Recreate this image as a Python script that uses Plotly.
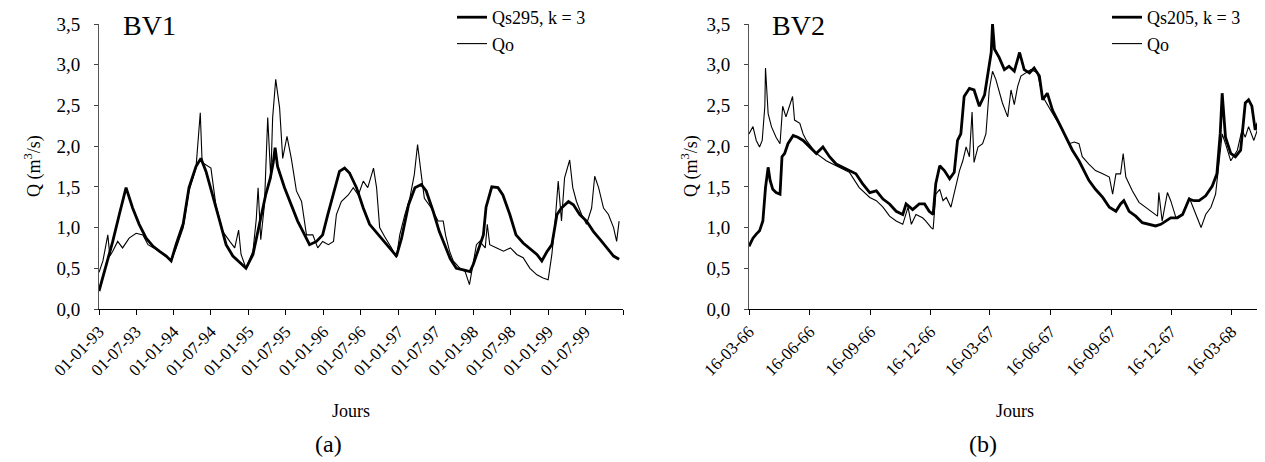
import plotly.graph_objects as go
import pandas as pd

# ---------------- BV1 (a) ----------------
bv1_qs_dates = [
    "1993-01-01", "1993-02-06", "1993-03-09", "1993-04-10", "1993-05-13", "1993-06-14", "1993-07-16",
    "1993-08-19", "1993-09-22", "1993-10-22", "1993-11-25", "1993-12-19", "1994-01-13", "1994-02-16",
    "1994-03-16", "1994-04-19", "1994-05-13", "1994-06-07", "1994-07-10", "1994-08-13", "1994-09-13",
    "1994-10-16", "1994-11-19", "1994-12-19", "1995-01-22", "1995-02-25", "1995-03-25", "1995-04-16",
    "1995-05-01", "1995-05-10", "1995-05-22", "1995-06-25", "1995-07-28", "1995-08-28", "1995-10-01",
    "1995-10-25", "1995-11-28", "1995-12-28", "1996-01-22", "1996-02-28", "1996-03-19", "1996-04-13",
    "1996-05-07", "1996-06-10", "1996-07-13", "1996-08-13", "1996-09-25", "1996-10-25", "1996-11-28",
    "1996-12-22", "1997-01-16", "1997-02-19", "1997-03-22", "1997-04-22", "1997-05-16", "1997-06-19",
    "1997-07-19", "1997-08-22", "1997-09-10", "1997-09-25", "1997-10-10", "1997-11-13", "1997-12-16",
    "1998-01-01", "1998-01-25", "1998-02-19", "1998-03-04", "1998-04-01", "1998-05-01", "1998-05-25",
    "1998-06-28", "1998-07-28", "1998-09-01", "1998-10-01", "1998-11-07", "1998-12-01", "1998-12-25",
    "1999-01-19", "1999-02-13", "1999-03-07", "1999-04-10", "1999-05-04", "1999-06-04", "1999-07-07",
    "1999-08-10", "1999-09-13", "1999-10-13", "1999-11-16", "1999-12-13",
]
bv1_qs = [
    0.22, 0.54, 0.83, 1.16, 1.49, 1.24, 1.04,
    0.87, 0.77, 0.71, 0.65, 0.59, 0.80, 1.05,
    1.49, 1.75, 1.85, 1.69, 1.40, 1.08, 0.79,
    0.65, 0.57, 0.50, 0.67, 1.08, 1.40, 1.60,
    1.80, 1.98, 1.75, 1.49, 1.28, 1.08, 0.91,
    0.79, 0.83, 0.91, 1.16, 1.49, 1.69, 1.73,
    1.67, 1.49, 1.24, 1.04, 0.91, 0.83, 0.73,
    0.65, 0.87, 1.28, 1.49, 1.53, 1.45, 1.20,
    0.95, 0.75, 0.62, 0.56, 0.50, 0.48, 0.46,
    0.55, 0.72, 0.91, 1.25, 1.50, 1.49, 1.40,
    1.16, 0.91, 0.81, 0.75, 0.67, 0.59, 0.70,
    0.79, 1.16, 1.24, 1.32, 1.28, 1.16, 1.08,
    0.95, 0.85, 0.75, 0.65, 0.61,
]
bv1_qo_dates = [
    "1993-01-01", "1993-01-20", "1993-02-13", "1993-02-23", "1993-03-09", "1993-04-02", "1993-04-26",
    "1993-05-28", "1993-07-01", "1993-08-03", "1993-08-28", "1993-10-22", "1993-12-19", "1994-01-13",
    "1994-02-16", "1994-03-16", "1994-04-19", "1994-05-10", "1994-05-19", "1994-07-01", "1994-07-25",
    "1994-08-28", "1994-10-01", "1994-10-25", "1994-11-13", "1994-11-25", "1994-12-19", "1995-01-22",
    "1995-02-07", "1995-02-16", "1995-03-01", "1995-03-19", "1995-04-04", "1995-04-19", "1995-04-28",
    "1995-05-13", "1995-06-01", "1995-06-16", "1995-07-07", "1995-07-28", "1995-08-22", "1995-09-16",
    "1995-10-10", "1995-11-10", "1995-12-04", "1995-12-28", "1996-01-25", "1996-02-19", "1996-03-04",
    "1996-03-28", "1996-05-01", "1996-05-25", "1996-06-19", "1996-07-13", "1996-08-04", "1996-09-01",
    "1996-09-16", "1996-10-01", "1996-10-25", "1996-11-28", "1996-12-22", "1997-01-07", "1997-02-01",
    "1997-02-25", "1997-03-19", "1997-04-04", "1997-04-22", "1997-05-07", "1997-06-10", "1997-07-13",
    "1997-08-07", "1997-08-19", "1997-09-07", "1997-09-25", "1997-10-28", "1997-11-22", "1997-12-13",
    "1998-01-01", "1998-01-16", "1998-02-01", "1998-02-28", "1998-03-10", "1998-03-22", "1998-04-25",
    "1998-05-28", "1998-07-01", "1998-08-01", "1998-09-01", "1998-10-04", "1998-11-07", "1998-12-07",
    "1999-01-01", "1999-01-19", "1999-02-04", "1999-02-19", "1999-03-07", "1999-03-22", "1999-04-16",
    "1999-05-01", "1999-05-19", "1999-06-13", "1999-07-07", "1999-08-01", "1999-08-16", "1999-09-04",
    "1999-09-28", "1999-10-22", "1999-11-16", "1999-12-01", "1999-12-13",
]
bv1_qo = [
    0.45, 0.59, 0.91, 0.65, 0.71, 0.83, 0.75,
    0.87, 0.93, 0.91, 0.79, 0.71, 0.59, 0.75,
    1.00, 1.45, 1.73, 2.41, 1.80, 1.73, 1.28,
    0.95, 0.83, 0.75, 0.97, 0.67, 0.50, 0.71,
    1.10, 1.49, 0.85, 1.28, 2.35, 1.60, 2.35,
    2.82, 2.47, 1.85, 2.12, 1.85, 1.45, 1.32,
    0.91, 0.91, 0.75, 0.83, 0.79, 0.83, 1.16,
    1.32, 1.40, 1.49, 1.40, 1.57, 1.49, 1.73,
    1.49, 1.00, 0.89, 0.75, 0.63, 0.91, 1.16,
    1.36, 1.65, 2.02, 1.65, 1.36, 1.24, 1.08,
    1.08, 0.90, 0.71, 0.59, 0.50, 0.46, 0.30,
    0.59, 0.79, 0.83, 0.75, 1.04, 0.79, 0.75,
    0.71, 0.75, 0.67, 0.63, 0.50, 0.42, 0.38,
    0.36, 0.67, 1.08, 1.57, 1.08, 1.61, 1.83,
    1.49, 1.32, 1.16, 1.04, 1.24, 1.63, 1.49,
    1.24, 1.16, 1.00, 0.83, 1.08,
]
bv1_tickvals = [
    "1993-01-01", "1993-07-01", "1994-01-01", "1994-07-01", "1995-01-01", "1995-07-01",
    "1996-01-01", "1996-07-01", "1997-01-01", "1997-07-01", "1998-01-01", "1998-07-01",
    "1999-01-01", "1999-07-01",
]
bv1_ticktext = [
    "01-01-93", "01-07-93", "01-01-94", "01-07-94", "01-01-95", "01-07-95",
    "01-01-96", "01-07-96", "01-01-97", "01-07-97", "01-01-98", "01-07-98",
    "01-01-99", "01-07-99",
]
bv1_end = "2000-01-01"

# ---------------- BV2 (b) ----------------
bv2_start = "1966-03-16"
bv2_end = "1968-05-18"
bv2_qs_days = [
    0, 6, 11, 16, 21, 25, 29, 32, 36, 41, 47, 50, 54, 59, 67, 74, 82, 92, 102, 112,
    122, 132, 142, 152, 162, 172, 183, 193, 203, 213, 223, 233, 238, 248, 258, 266,
    273, 279, 283, 289, 296, 304, 311, 316, 321, 326, 334, 341, 349, 357, 362, 367,
    369, 372, 379, 387, 394, 402, 410, 417, 425, 432, 440, 445, 452, 460, 470, 480,
    490, 500, 510, 515, 525, 536, 546, 556, 563, 568, 576, 586, 596, 606, 616, 624,
    631, 639, 649, 657, 667, 674, 682, 692, 702, 709, 714, 717, 722, 730, 737, 745,
    752, 757, 762, 767, 775, 782, 787, 791,
]
bv2_qs = [
    0.77, 0.87, 0.92, 0.96, 1.08, 1.49, 1.74, 1.58, 1.47, 1.43, 1.41, 1.87, 1.91, 2.03, 2.13, 2.11, 2.07, 1.99, 1.91, 1.99,
    1.87, 1.78, 1.74, 1.70, 1.66, 1.54, 1.43, 1.45, 1.35, 1.29, 1.20, 1.16, 1.29, 1.22, 1.29, 1.29,
    1.20, 1.16, 1.54, 1.76, 1.70, 1.60, 1.68, 2.07, 2.15, 2.61, 2.71, 2.69, 2.49, 2.63, 2.90, 3.15,
    3.50, 3.19, 3.09, 2.94, 2.98, 2.92, 3.15, 2.94, 2.90, 2.96, 2.86, 2.57, 2.65, 2.44, 2.28, 2.11,
    1.95, 1.82, 1.66, 1.58, 1.47, 1.37, 1.25, 1.20, 1.29, 1.33, 1.20, 1.14, 1.06, 1.04, 1.02, 1.04,
    1.08, 1.12, 1.12, 1.16, 1.35, 1.33, 1.33, 1.39, 1.51, 1.66, 2.15, 2.65, 2.11, 1.91, 1.87, 1.95,
    2.53, 2.57, 2.49, 2.20, 2.36, 2.40, 2.67, 2.49,
]
bv2_qo_days = [
    0, 6, 11, 16, 20, 24, 25, 29, 34, 41, 47, 51, 56, 62, 66, 69, 77, 82, 87, 102,
    117, 132, 152, 167, 183, 193, 203, 213, 223, 233, 241, 246, 253, 263, 268, 276,
    279, 283, 289, 294, 299, 306, 311, 319, 324, 329, 334, 338, 341, 347, 354, 359,
    364, 369, 374, 379, 384, 392, 397, 402, 407, 412, 420, 427, 437, 445, 460, 475,
    485, 493, 500, 505, 515, 525, 536, 546, 551, 556, 563, 567, 571, 581, 591, 601,
    611, 619, 621, 626, 634, 639, 647, 657, 667, 677, 685, 692, 700, 707, 712, 717,
    722, 730, 740, 747, 752, 757, 765, 772, 780, 787, 791,
]
bv2_qo = [
    2.15, 2.24, 2.07, 1.99, 2.07, 2.49, 2.96, 2.40, 2.24, 2.11, 2.03, 2.49, 2.36, 2.53, 2.61, 2.32, 2.28, 2.15, 2.07, 1.91,
    1.82, 1.76, 1.68, 1.49, 1.37, 1.33, 1.25, 1.14, 1.08, 1.04, 1.25, 1.04, 1.16, 1.12, 1.08, 1.00,
    0.98, 1.41, 1.47, 1.33, 1.37, 1.25, 1.41, 1.70, 1.82, 1.99, 1.87, 2.42, 1.80, 1.99, 2.03, 2.15,
    2.69, 2.92, 2.82, 2.69, 2.53, 2.36, 2.69, 2.51, 2.73, 2.86, 2.90, 2.94, 2.90, 2.61, 2.40, 2.20,
    2.03, 2.05, 2.03, 1.87, 1.78, 1.70, 1.66, 1.62, 1.41, 1.66, 1.66, 1.91, 1.62, 1.45, 1.31, 1.25,
    1.18, 1.14, 1.43, 1.08, 1.43, 1.33, 1.12, 1.16, 1.37, 1.16, 1.00, 1.16, 1.25, 1.41, 1.78, 2.15,
    2.03, 1.82, 1.95, 2.20, 2.11, 2.24, 2.07, 2.24, 2.11, 2.32, 2.40,
]
bv2_tickvals = [
    "1966-03-16", "1966-06-16", "1966-09-16", "1966-12-16", "1967-03-16",
    "1967-06-16", "1967-09-16", "1967-12-16", "1968-03-16",
]
bv2_ticktext = [
    "16-03-66", "16-06-66", "16-09-66", "16-12-66", "16-03-67",
    "16-06-67", "16-09-67", "16-12-67", "16-03-68",
]

yticks = [0, 0.5, 1.0, 1.5, 2.0, 2.5, 3.0, 3.5]

# ---------------- figure ----------------
W, H = 1265, 462
FONT = "Liberation Serif"


def px(x):
    return x / W


def py(y):
    return 1 - y / H


bv2_base = pd.Timestamp(bv2_start)
bv2_qs_x = bv2_base + pd.to_timedelta(bv2_qs_days, unit="D")
bv2_qo_x = bv2_base + pd.to_timedelta(bv2_qo_days, unit="D")

fig = go.Figure()
fig.add_trace(go.Scatter(x=bv1_qs_dates, y=bv1_qs, mode="lines", name="Qs295, k = 3",
                         line=dict(color="black", width=2.8), xaxis="x", yaxis="y", legend="legend"))
fig.add_trace(go.Scatter(x=bv1_qo_dates, y=bv1_qo, mode="lines", name="Qo",
                         line=dict(color="black", width=1.1), xaxis="x", yaxis="y", legend="legend"))
fig.add_trace(go.Scatter(x=bv2_qs_x, y=bv2_qs, mode="lines", name="Qs205, k = 3",
                         line=dict(color="black", width=2.8), xaxis="x2", yaxis="y2", legend="legend2"))
fig.add_trace(go.Scatter(x=bv2_qo_x, y=bv2_qo, mode="lines", name="Qo",
                         line=dict(color="black", width=1.1), xaxis="x2", yaxis="y2", legend="legend2"))

xtickfont = dict(family=FONT, size=17, color="black")
ytickfont = dict(family=FONT, size=19, color="black")
xcommon = dict(type="date", tickangle=-45, ticks="outside", ticklen=5, tickcolor="black",
               showline=True, linecolor="black", linewidth=1, showgrid=False, zeroline=False,
               tickfont=xtickfont, fixedrange=True, automargin=False)
ycommon = dict(range=[0, 3.5], tickvals=yticks, tickformat=".1f", ticks="outside", ticklen=4,
               tickcolor="#444", showline=True, linecolor="#555", linewidth=1, showgrid=False,
               zeroline=False, tickfont=ytickfont, fixedrange=True, automargin=False,
               ticklabelstandoff=10)

fig.update_layout(
    width=W, height=H,
    margin=dict(l=0, r=0, t=0, b=0, autoexpand=False),
    paper_bgcolor="white", plot_bgcolor="white",
    separators=", ",
    font=dict(family=FONT, color="black"),
    xaxis=dict(domain=[px(91), px(615)], anchor="y", range=[bv1_qs_dates[0], bv1_end],
               tickvals=bv1_tickvals, ticktext=bv1_ticktext,
               minor=dict(tickvals=[bv1_end], ticks="outside", ticklen=5, tickcolor="black", showgrid=False),
               **xcommon),
    yaxis=dict(domain=[py(301), py(16)], anchor="x", **ycommon),
    xaxis2=dict(domain=[px(741), 1.0], anchor="y2", range=[bv2_start, bv2_end],
                tickvals=bv2_tickvals, ticktext=bv2_ticktext, **xcommon),
    yaxis2=dict(domain=[py(301), py(16)], anchor="x2", **ycommon),
    legend=dict(x=px(444), y=py(-9), xanchor="left", yanchor="top", bgcolor="rgba(0,0,0,0)",
                font=dict(family=FONT, size=18, color="black"), tracegroupgap=0,
                itemwidth=30),
    legend2=dict(x=px(1099), y=py(-9), xanchor="left", yanchor="top", bgcolor="rgba(0,0,0,0)",
                 font=dict(family=FONT, size=18, color="black"), tracegroupgap=0,
                 itemwidth=30),
    showlegend=True,
)

ann_font = dict(family=FONT, size=18, color="black")
annotations = [
    dict(text="BV1", x=px(113), y=py(17), xanchor="left", yanchor="middle",
         font=dict(family=FONT, size=28, color="black")),
    dict(text="BV2", x=px(762), y=py(17), xanchor="left", yanchor="middle",
         font=dict(family=FONT, size=28, color="black")),
    dict(text="Q (m<sup>3</sup>/s)", x=px(25), y=py(158), textangle=-90, font=ann_font,
         xanchor="center", yanchor="middle"),
    dict(text="Q (m<sup>3</sup>/s)", x=px(682), y=py(158), textangle=-90, font=ann_font,
         xanchor="center", yanchor="middle"),
    dict(text="Jours", x=px(343), y=py(403), font=ann_font, xanchor="center", yanchor="middle"),
    dict(text="Jours", x=px(1007), y=py(403), font=ann_font, xanchor="center", yanchor="middle"),
    dict(text="(a)", x=px(320), y=py(436), font=dict(family=FONT, size=24, color="black"),
         xanchor="center", yanchor="middle"),
    dict(text="(b)", x=px(975), y=py(436), font=dict(family=FONT, size=24, color="black"),
         xanchor="center", yanchor="middle"),
]
for a in annotations:
    a.update(xref="paper", yref="paper", showarrow=False)
fig.update_layout(annotations=annotations)

fig.write_html("out.html", config={"displayModeBar": False})
